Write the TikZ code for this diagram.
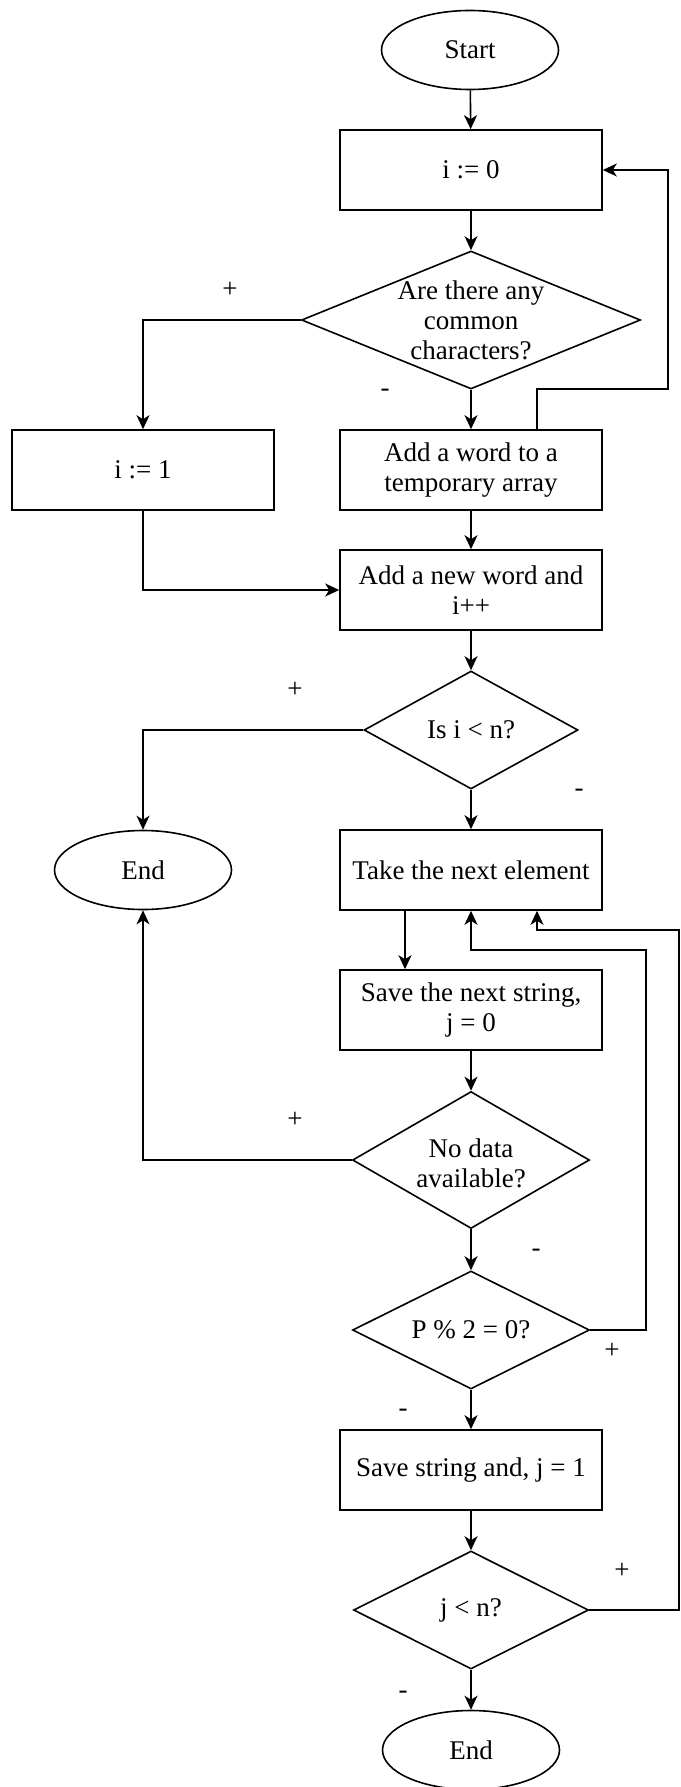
\documentclass[tikz,border=0pt]{standalone}
\usepackage{fontspec}
\setmainfont{Liberation Serif}
\usetikzlibrary{shapes.geometric,arrows.meta}
\begin{document}
\begin{tikzpicture}[x=1pt,y=-1pt,
  every node/.style={font=\fontsize{27}{30}\selectfont},
  flow/.style={line width=1.6pt},
  arr/.style={flow,-{Stealth[length=14pt,width=13pt,inset=4pt]}},
  proc/.style={draw,line width=1.6pt,rectangle,minimum width=262pt,minimum height=80pt,inner sep=0pt,align=center},
  term/.style={draw,line width=1.6pt,ellipse,minimum width=177pt,minimum height=79pt,inner sep=0pt},
  dec/.style={draw,line width=1.6pt,diamond,inner sep=0pt},
  dectext/.style={align=center,inner sep=0pt},
  lbl/.style={inner sep=0pt},
]
\useasboundingbox (0,0) rectangle (680,1787);

% terminals
\node[term] (start) at (470,50) {Start};
\node[term] (end1) at (143,870) {End};
\node[term] (end2) at (471,1750) {End};

% process boxes
\node[proc] (b0) at (471,170) {i := 0};
\node[proc] (b1) at (143,470) {i := 1};
\node[proc] (bw) at (471,470) {Add a word to a\\temporary array};
\node[proc] (bn) at (471,590) {Add a new word and\\i++};
\node[proc] (bt) at (471,870) {Take the next element};
\node[proc] (bs) at (471,1010) {Save the next string,\\j = 0};
\node[proc] (bj) at (471,1470) {Save string and, j = 1};

% decisions
\node[dec,minimum width=339pt,minimum height=138pt] (d1) at (471,320) {};
\node[dectext] (d1t) at (d1.center) {Are there any\\common\\characters?};
\node[dec,minimum width=214pt,minimum height=118pt] (d2) at (471,730) {};
\node[dectext] (d2t) at (d2.center) {Is i < n?};
\node[dec,minimum width=237pt,minimum height=137pt] (d3) at (471,1160) {};
\node[dectext] (d3t) at ([yshift=-3pt]d3.center) {No data\\available?};
\node[dec,minimum width=237pt,minimum height=118pt] (d4) at (471,1330) {};
\node[dectext] (d4t) at (d4.center) {P \% 2 = 0?};
\node[dec,minimum width=235pt,minimum height=118pt] (d5) at (471,1610) {};
\node[dectext] (d5t) at (d5.center) {j < n?};

% bend points of the return lines
\coordinate (r1) at (668,389);
\coordinate (r2) at (646,950);
\coordinate (r3) at (679,930);

% connectors
\draw[arr] (start) -- (b0);
\draw[arr] (b0) -- (d1);
\draw[arr] (d1.west) -| (b1.north);
\draw[arr] (d1.south) -- (bw.north);
\draw[arr] ([xshift=66pt]bw.north) |- (r1) |- (b0.east);
\draw[arr] (bw) -- (bn);
\draw[arr] (b1.south) |- (bn.west);
\draw[arr] (bn) -- (d2);
\draw[arr] (d2.west) -| (end1.north);
\draw[arr] (d2.south) -- (bt.north);
\draw[arr] ([xshift=-66pt]bt.south) -- ([xshift=-66pt]bs.north);
\draw[arr] (bs) -- (d3);
\draw[arr] (d3.west) -| (end1.south);
\draw[arr] (d3.south) -- (d4.north);
\draw[arr] (d4.east) -| (r2) -| (bt.south);
\draw[arr] (d4.south) -- (bj.north);
\draw[arr] (bj) -- (d5);
\draw[arr] (d5.east) -| (r3) -| ([xshift=66pt]bt.south);
\draw[arr] (d5.south) -- (end2.north);

% branch labels
\node[lbl] (p1) at (230,290) {+};
\node[lbl] (m1) at (385,393) {-};
\node[lbl] (p2) at (295,690) {+};
\node[lbl] (m2) at (579,793) {-};
\node[lbl] (p3) at (295,1120) {+};
\node[lbl] (m3) at (536,1253) {-};
\node[lbl] (p4) at (612,1351) {+};
\node[lbl] (m4) at (403,1413) {-};
\node[lbl] (p5) at (622,1571) {+};
\node[lbl] (m5) at (403,1695) {-};
\end{tikzpicture}
\end{document}
